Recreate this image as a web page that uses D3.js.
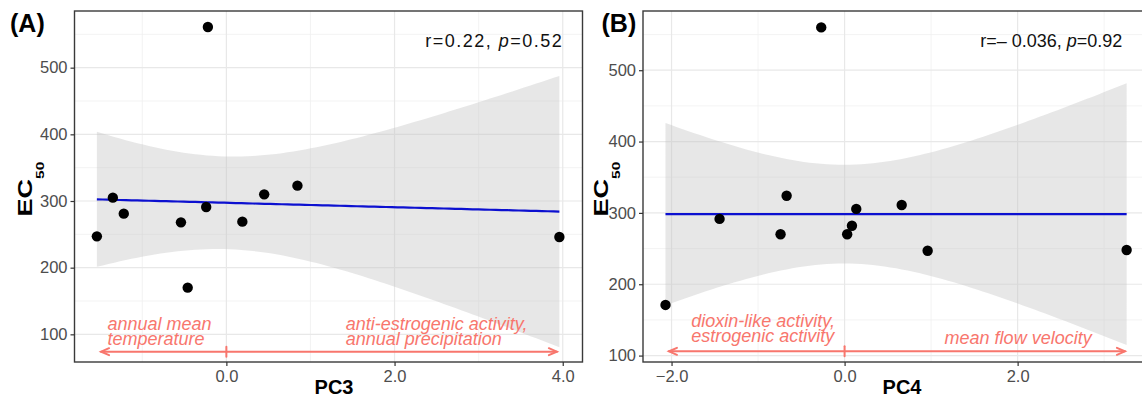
<!DOCTYPE html>
<html>
<head>
<meta charset="utf-8">
<script src="https://cdn.jsdelivr.net/npm/d3@7"></script>
<style>
  body { margin: 0; background: #fff; }
  svg { display: block; font-family: "Liberation Sans", Arial, sans-serif; }
</style>
</head>
<body>
<div id="chart"></div>
<script>
// values (EC50 vs principal component scores)
var ec50A = [561, 305, 310, 323, 247, 281, 268, 291, 269, 170, 246];
var pc3 = [-0.22, -1.35, 0.45, 0.845, -1.54, -1.22, -0.54, -0.24, 0.19, -0.46, 3.96];
var ec50B = [560, 324, 171, 291.6, 270, 270, 282, 305.6, 311, 247, 248];
var pc4 = [-0.27, -0.67, -2.07, -1.445, -0.74, 0.03, 0.085, 0.135, 0.66, 0.96, 3.26];

var yTicks = [100, 200, 300, 400, 500];
var yMinor = [150, 250, 350, 450, 550];
var xTicksA = [0, 2, 4];
var xTicksB = [-2, 0, 2];
var xMinor = [-1, 1, 3];

var T_CRIT = 2.262; // t(0.975, df = 9)

var panels = [
  {tag: '(A)', xlab: 'PC3', xs: pc3, ys: ec50A,
   xDomain: [-1.806, 4.235], yDomain: [58.5, 585], left: 74.5, right: 582.5,
   xTicks: xTicksA, tagOffset: 64.5, ylabOffset: 42.5,
   stat: [{t: 'r=0.22, '}, {t: 'p', it: true}, {t: '=0.52'}], statX: 4.007, statY: 531.5, statSpacing: 1.5,
   arrow: [-1.49, 3.93], arrowY: 74,
   notes: [
     {x: -1.413, y: 107, lines: ['annual mean', 'temperature']},
     {x: 1.42, y: 107, lines: ['anti-estrogenic activity,', 'annual precipitation']}
   ]},
  {tag: '(B)', xlab: 'PC4', xs: pc4, ys: ec50B,
   xDomain: [-2.33, 3.53], yDomain: [91, 583], left: 643, right: 1150,
   xTicks: xTicksB, tagOffset: 41.5, ylabOffset: 35,
   stat: [{t: 'r=\u2013 0.036, '}, {t: 'p', it: true}, {t: '=0.92'}], statX: 3.21, statY: 532.7, statSpacing: 0,
   arrow: [-2.03, 3.24], arrowY: 106,
   notes: [
     {x: -1.772, y: 139.5, lines: ['dioxin-like activity,', 'estrogenic activity']},
     {x: 1.156, y: 137.5, lines: ['', 'mean flow velocity']}
   ]}
];

var plotTop = 11, plotBottom = 362;
var noteColor = '#f8766d';
var noteLead = 15;

var svg = d3.select('#chart').append('svg')
  .attr('width', 1142).attr('height', 402);

svg.append('rect').attr('width', 1142).attr('height', 402).attr('fill', '#fff');

function linearFit(xs, ys){
  var n = xs.length;
  var mx = d3.mean(xs), my = d3.mean(ys);
  var sxx = 0, sxy = 0;
  for(var i = 0; i < n; i++){
    sxx += (xs[i] - mx) * (xs[i] - mx);
    sxy += (xs[i] - mx) * (ys[i] - my);
  }
  var b = sxy / sxx, a = my - b * mx;
  var sse = 0;
  for(var j = 0; j < n; j++){
    var r = ys[j] - (a + b * xs[j]);
    sse += r * r;
  }
  var s = Math.sqrt(sse / (n - 2));
  return {a: a, b: b, n: n, mx: mx, sxx: sxx, s: s};
}

panels.forEach(function(p){
  var x = d3.scaleLinear().domain(p.xDomain).range([p.left, p.right]);
  var y = d3.scaleLinear().domain(p.yDomain).range([plotBottom, plotTop]);

  var g = svg.append('g');
  var clipId = 'clip' + p.xlab;
  svg.append('clipPath').attr('id', clipId).append('rect')
    .attr('x', p.left).attr('y', plotTop)
    .attr('width', p.right - p.left).attr('height', plotBottom - plotTop);

  var plot = g.append('g').attr('clip-path', 'url(#' + clipId + ')');

  // grid
  yMinor.forEach(function(v){
    plot.append('line').attr('x1', p.left).attr('x2', p.right)
      .attr('y1', y(v)).attr('y2', y(v))
      .attr('stroke', '#f0f0f0').attr('stroke-width', 0.8);
  });
  xMinor.forEach(function(v){
    plot.append('line').attr('x1', x(v)).attr('x2', x(v))
      .attr('y1', plotTop).attr('y2', plotBottom)
      .attr('stroke', '#f0f0f0').attr('stroke-width', 0.8);
  });
  yTicks.forEach(function(v){
    plot.append('line').attr('x1', p.left).attr('x2', p.right)
      .attr('y1', y(v)).attr('y2', y(v))
      .attr('stroke', '#e8e8e8').attr('stroke-width', 1.2);
  });
  p.xTicks.forEach(function(v){
    plot.append('line').attr('x1', x(v)).attr('x2', x(v))
      .attr('y1', plotTop).attr('y2', plotBottom)
      .attr('stroke', '#e8e8e8').attr('stroke-width', 1.2);
  });

  // lm fit + 95% confidence band
  var fit = linearFit(p.xs, p.ys);
  var ext = d3.extent(p.xs);
  var grid = d3.range(0, 81).map(function(i){
    var xv = ext[0] + (ext[1] - ext[0]) * i / 80;
    var yv = fit.a + fit.b * xv;
    var se = fit.s * Math.sqrt(1 / fit.n + (xv - fit.mx) * (xv - fit.mx) / fit.sxx);
    return {x: xv, y: yv, lo: yv - T_CRIT * se, hi: yv + T_CRIT * se};
  });

  plot.append('path').datum(grid)
    .attr('d', d3.area()
      .x(function(d){ return x(d.x); })
      .y0(function(d){ return y(d.lo); })
      .y1(function(d){ return y(d.hi); }))
    .attr('fill', '#c4c4c4').attr('fill-opacity', 0.4);

  plot.append('path').datum(grid)
    .attr('d', d3.line()
      .x(function(d){ return x(d.x); })
      .y(function(d){ return y(d.y); }))
    .attr('fill', 'none').attr('stroke', '#0c10d0').attr('stroke-width', 2.2);

  // points
  plot.selectAll('circle.pt').data(p.xs).enter().append('circle')
    .attr('class', 'pt')
    .attr('cx', function(d){ return x(d); })
    .attr('cy', function(d, i){ return y(p.ys[i]); })
    .attr('r', 5.2).attr('fill', '#000');

  // annotation arrow
  var ay = y(p.arrowY);
  var x0 = x(p.arrow[0]), x1 = x(p.arrow[1]);
  var arrowG = g.append('g').attr('stroke', noteColor).attr('stroke-width', 2)
    .attr('fill', 'none').attr('stroke-linecap', 'round');
  arrowG.append('line').attr('x1', x0).attr('x2', x1).attr('y1', ay).attr('y2', ay);
  arrowG.append('path').attr('d', 'M' + (x0 + 8) + ',' + (ay - 3.5) + 'L' + x0 + ',' + ay + 'L' + (x0 + 8) + ',' + (ay + 3.5));
  arrowG.append('path').attr('d', 'M' + (x1 - 8) + ',' + (ay - 3.5) + 'L' + x1 + ',' + ay + 'L' + (x1 - 8) + ',' + (ay + 3.5));
  arrowG.append('line').attr('x1', x(0)).attr('x2', x(0)).attr('y1', ay - 5).attr('y2', ay + 5);

  p.notes.forEach(function(n){
    n.lines.forEach(function(t, k){
      if(!t) return;
      g.append('text')
        .attr('x', x(n.x)).attr('y', y(n.y) + k * noteLead)
        .attr('fill', noteColor).attr('font-style', 'italic')
        .attr('font-size', '18px')
        .text(t);
    });
  });

  // stats label
  var st = g.append('text')
    .attr('x', x(p.statX)).attr('y', y(p.statY))
    .attr('text-anchor', 'end').attr('font-size', '18px')
    .attr('letter-spacing', p.statSpacing + 'px')
    .attr('fill', '#111');
  p.stat.forEach(function(s){
    st.append('tspan').attr('font-style', s.it ? 'italic' : 'normal').text(s.t);
  });

  // panel border
  g.append('rect').attr('x', p.left).attr('y', plotTop)
    .attr('width', p.right - p.left).attr('height', plotBottom - plotTop)
    .attr('fill', 'none').attr('stroke', '#3a3a3a').attr('stroke-width', 1.4);

  // y axis
  var yAxis = g.append('g').attr('transform', 'translate(' + p.left + ',0)')
    .call(d3.axisLeft(y).tickValues(yTicks).tickSize(4).tickPadding(3).tickFormat(d3.format('d')));
  yAxis.select('.domain').remove();
  yAxis.selectAll('line').attr('stroke', '#333').attr('stroke-width', 1.2);
  yAxis.selectAll('text').attr('fill', '#4d4d4d').attr('font-size', '16.5px')
    .attr('font-family', '"Liberation Sans", Arial, sans-serif');

  // x axis
  var xAxis = g.append('g').attr('transform', 'translate(0,' + plotBottom + ')')
    .call(d3.axisBottom(x).tickValues(p.xTicks).tickSize(4).tickPadding(4).tickFormat(d3.format('.1f')));
  xAxis.select('.domain').remove();
  xAxis.selectAll('line').attr('stroke', '#333').attr('stroke-width', 1.2);
  xAxis.selectAll('text').attr('fill', '#4d4d4d').attr('font-size', '16.5px')
    .attr('font-family', '"Liberation Sans", Arial, sans-serif');

  // titles
  g.append('text')
    .attr('x', (p.left + p.right) / 2 + 5.5).attr('y', 394)
    .attr('text-anchor', 'middle').attr('font-weight', 'bold').attr('font-size', '20px')
    .attr('fill', '#000').text(p.xlab);

  var yl = g.append('text')
    .attr('transform', 'translate(' + (p.left - p.ylabOffset) + ',189) rotate(-90) scale(1.35,1)')
    .attr('text-anchor', 'middle').attr('font-weight', 'bold').attr('font-size', '20px')
    .attr('fill', '#000');
  yl.append('tspan').text('EC');
  yl.append('tspan').attr('font-size', '11.5px').attr('dy', 12).text('50');

  g.append('text')
    .attr('x', p.left - p.tagOffset).attr('y', 32)
    .attr('font-weight', 'bold').attr('font-size', '25px')
    .attr('fill', '#000').text(p.tag);
});
</script>
</body>
</html>
